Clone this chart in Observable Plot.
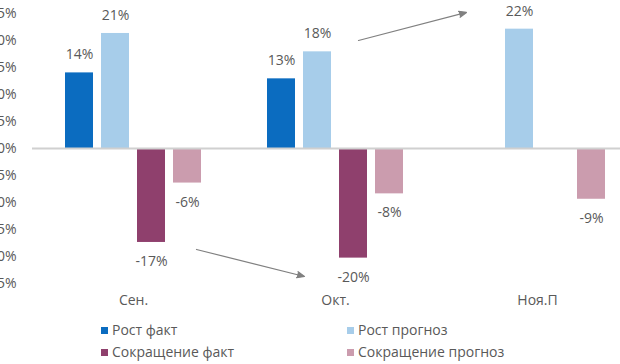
<!DOCTYPE html>
<html><head><meta charset="utf-8">
<script src="https://cdn.jsdelivr.net/npm/d3@7"></script>
<script src="https://cdn.jsdelivr.net/npm/@observablehq/plot@0.6"></script>
<style>
body{margin:0;overflow:hidden;background:#fff;font-family:"Open Sans",sans-serif;}
#chart{width:620px;overflow:hidden;}
#legend{position:relative;width:620px;height:51px;color:#595959;font-size:14px;}
.item{position:absolute;display:flex;align-items:center;white-space:nowrap;line-height:18px;}
.sw{width:7px;height:7px;margin-right:4px;display:inline-block;}
</style></head><body><div id="chart"></div><div id="legend"></div>
<script>
const categories = ["Сен.", "Окт.", "Ноя.П"];
const seriesNames = ["Рост факт", "Рост прогноз", "Сокращение факт", "Сокращение прогноз"];
const seriesColors = ["#0b6cc0", "#a7cdea", "#8f406d", "#cb9cae"];
const rostFakt = [14.0, 12.9, null];
const rostPrognoz = [21.3, 17.9, 22.1];
const sokrFakt = [-17.4, -20.3, null];
const sokrPrognoz = [-6.4, -8.4, -9.4];
const yTicks = [-25, -20, -15, -10, -5, 0, 5, 10, 15, 20, 25];
const arrowCats = ["Сен.", "Окт."];
const arrowFrom = [-18.7, 20.0];
const arrowTo = [-23.7, 25.2];

const seriesValues = [rostFakt, rostPrognoz, sokrFakt, sokrPrognoz];
const data = [];
categories.forEach((c, i) => seriesNames.forEach((s, j) => {
  const v = seriesValues[j][i];
  if (v != null) data.push({cat: c, series: s, value: v});
}));
const arrows = arrowCats.map((c, i) => ({cat: c, from: seriesNames[0], to: seriesNames[3], y1: arrowFrom[i], y2: arrowTo[i]}));

const chart = Plot.plot({
  width: 620, height: 313,
  marginLeft: 32, marginRight: -18, marginTop: 13, marginBottom: 30,
  style: {fontFamily: "'Open Sans', sans-serif", fontSize: "14px", color: "#595959", background: "#fff"},
  fx: {domain: categories, padding: 0, label: null, tickSize: 0, tickPadding: 12},
  x: {domain: seriesNames, paddingInner: 0.23, paddingOuter: 0.845, axis: null},
  y: {domain: [-25, 25], ticks: yTicks, tickFormat: d => d + "%", tickSize: 0, tickPadding: 16, label: null},
  color: {domain: seriesNames, range: seriesColors},
  marks: [
    Plot.barY(data, {fx: "cat", x: "series", y: "value", fill: "series"}),
    Plot.ruleY([0], {stroke: "#d0d0d0", strokeWidth: 2}),
    Plot.text(data.filter(d => d.value >= 0), {fx: "cat", x: "series", y: "value", text: d => Math.round(d.value) + "%", dy: -18, fill: "#595959"}),
    Plot.text(data.filter(d => d.value < 0), {fx: "cat", x: "series", y: "value", text: d => Math.round(d.value) + "%", dy: 19, fill: "#595959"}),
    Plot.arrow(arrows.slice(0, 1), {fx: "cat", x1: "from", x2: "to", y1: "y1", y2: "y2", dx: 117, stroke: "#808080", fill: "#808080", strokeWidth: 1.2, headLength: 10, headAngle: 45}),
    Plot.arrow(arrows.slice(1, 2), {fx: "cat", x1: "from", x2: "to", y1: "y1", y2: "y2", dx: 77, stroke: "#808080", fill: "#808080", strokeWidth: 1.2, headLength: 10, headAngle: 45})
  ]
});
document.getElementById("chart").append(chart);

const legendPos = [[101, 8], [347, 8], [101, 30], [347, 30]];
const legend = document.getElementById("legend");
seriesNames.forEach((s, i) => {
  const it = document.createElement("div");
  it.className = "item";
  it.style.left = legendPos[i][0] + "px";
  it.style.top = legendPos[i][1] + "px";
  const sw = document.createElement("span");
  sw.className = "sw";
  sw.style.background = seriesColors[i];
  it.append(sw, document.createTextNode(s));
  legend.append(it);
});
</script></body></html>
